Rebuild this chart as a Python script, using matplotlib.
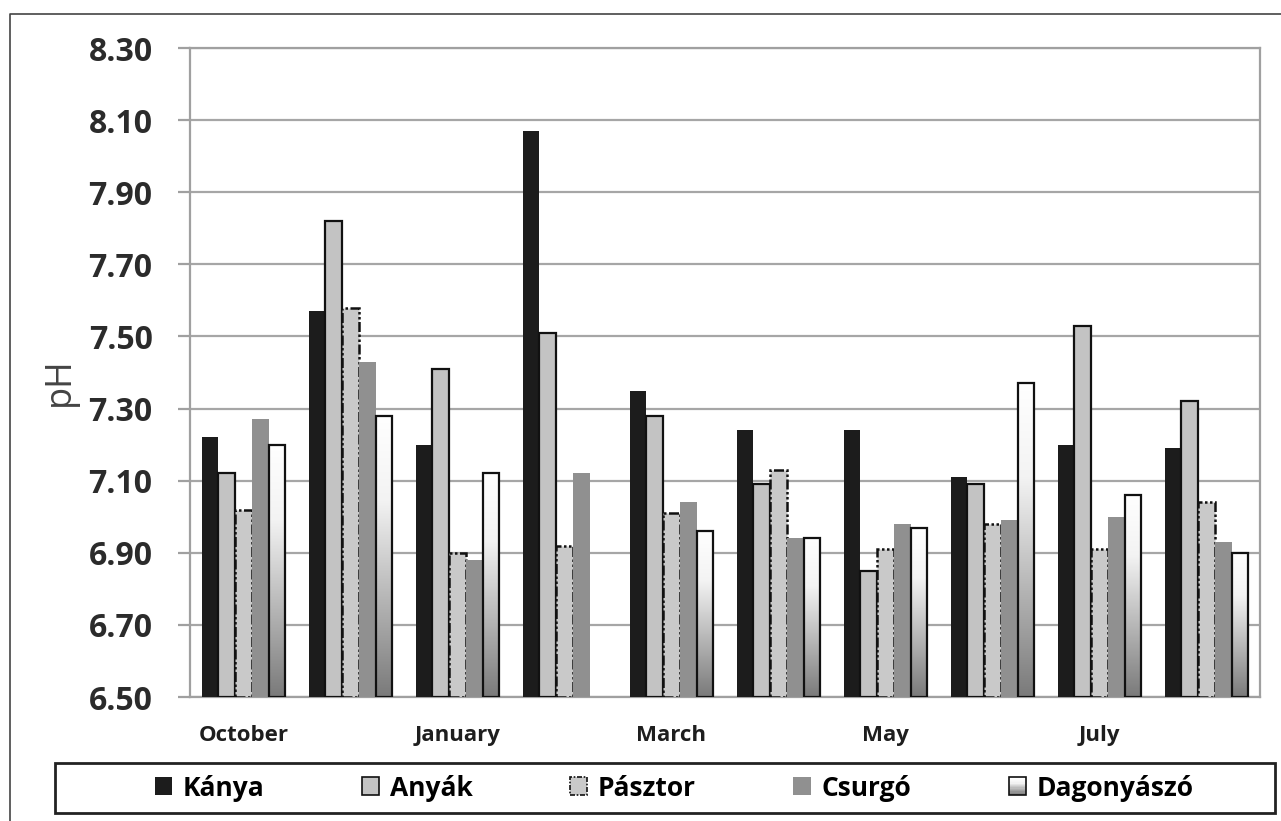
import numpy as np
import matplotlib.pyplot as plt
from matplotlib.patches import Rectangle, Patch
from matplotlib.lines import Line2D
from matplotlib.legend_handler import HandlerBase
from matplotlib.colors import LinearSegmentedColormap

plt.rcParams['font.family'] = ['Open Sans', 'DejaVu Sans']

# pH values per sampling (10 samplings, months labelled every other one)
months = ['October', '', 'January', '', 'March', '', 'May', '', 'July', '']
kanya = [7.22, 7.57, 7.20, 8.07, 7.35, 7.24, 7.24, 7.11, 7.20, 7.19]
anyak = [7.12, 7.82, 7.41, 7.51, 7.28, 7.09, 6.85, 7.09, 7.53, 7.32]
pasztor = [7.02, 7.58, 6.90, 6.92, 7.01, 7.13, 6.91, 6.98, 6.91, 7.04]
csurgo = [7.27, 7.43, 6.88, 7.12, 7.04, 6.94, 6.98, 6.99, 7.00, 6.93]
dagonyaszo = [7.20, 7.28, 7.12, np.nan, 6.96, 6.94, 6.97, 7.37, 7.06, 6.90]
names = ['Kánya', 'Anyák', 'Pásztor', 'Csurgó', 'Dagonyászó']

base = 6.5
W, H = 1281, 821

grad_cmap = LinearSegmentedColormap.from_list(
    'dag', [(0, '#ffffff'), (0.3, '#f3f3f3'), (1, '#7a7a7a')])

fig = plt.figure(figsize=(W / 100, H / 100), dpi=100)
ax = fig.add_axes([190 / W, 1 - 697 / H, (1260 - 190) / W, (697 - 48) / H])

x = np.arange(len(months))
bw = 0.157
offs = (np.arange(5) - 2) * bw

def heights(v):
    return np.array(v, dtype=float) - base

ax.bar(x + offs[0], heights(kanya), bw, bottom=base, color='#1c1c1c', zorder=3)
ax.bar(x + offs[1], heights(anyak), bw, bottom=base, color='#c3c3c3',
       edgecolor='#111111', linewidth=1.6, zorder=3)
ax.bar(x + offs[2], heights(pasztor), bw, bottom=base, color='#c9c9c9',
       edgecolor='#111111', linewidth=1.8, linestyle=(0, (4, 1, 1, 1, 1, 1)),
       zorder=3)
ax.bar(x + offs[3], heights(csurgo), bw, bottom=base, color='#909090', zorder=3)
dag = ax.bar(x + offs[4], heights(dagonyaszo), bw, bottom=base, facecolor='none',
             edgecolor='#111111', linewidth=1.6, zorder=3.1)

# vertical white-to-gray fill for each Dagonyászó bar
grad = np.linspace(0, 1, 256).reshape(-1, 1)
for p, v in zip(dag.patches, dagonyaszo):
    if np.isnan(v):
        continue
    x0, y0 = p.get_x(), p.get_y()
    im = ax.imshow(grad, extent=[x0, x0 + p.get_width(), y0, y0 + p.get_height()],
                   aspect='auto', cmap=grad_cmap, origin='upper', zorder=3)
    im.set_clip_path(p)

ax.set_xlim(-0.5, len(months) - 0.5)
ax.set_ylim(6.5, 8.3)
ax.set_yticks(np.arange(6.5, 8.31, 0.2))
ax.set_yticklabels([f'{t:.2f}' for t in np.arange(6.5, 8.31, 0.2)],
                   fontsize=23, fontweight='bold', color='#2b2b2b')
ax.set_xticks(x)
ax.set_xticklabels(months, fontsize=16, fontweight='bold', color='#1e1e1e')
ax.tick_params(axis='x', length=0, pad=20)
ax.tick_params(axis='y', length=9, width=1.6, color='#a0a0a0', pad=18)
ax.grid(axis='y', color='#a6a6a6', linewidth=1.6, zorder=0)
ax.set_axisbelow(True)
for s in ax.spines.values():
    s.set_color('#a0a0a0')
    s.set_linewidth(1.6)

fig.text(60 / W, 1 - 382 / H, 'pH', rotation=90, ha='center', va='center',
         fontsize=26, color='#444444')


class GradientHandler(HandlerBase):
    def create_artists(self, legend, orig_handle, xdescent, ydescent,
                       width, height, fontsize, trans):
        n = 14
        arts = []
        for i in range(n):
            r = Rectangle((-xdescent, -ydescent + height * (n - 1 - i) / n),
                          width, height / n, facecolor=grad_cmap(i / (n - 1)),
                          edgecolor='none', transform=trans)
            arts.append(r)
        arts.append(Rectangle((-xdescent, -ydescent), width, height,
                              facecolor='none', edgecolor='#111111', lw=1.2,
                              transform=trans))
        return arts


handles = [
    Patch(facecolor='#1c1c1c'),
    Patch(facecolor='#c3c3c3', edgecolor='#111111', lw=1.2),
    Patch(facecolor='#c9c9c9', edgecolor='#111111', lw=1.2, linestyle=(0, (3, 1, 1, 1))),
    Patch(facecolor='#909090'),
    Patch(facecolor='white'),
]
fig.legend(handles, names, loc='center', bbox_to_anchor=(674 / W, 1 - 788 / H),
           ncol=5, frameon=False, prop={'size': 19, 'weight': 'bold'},
           handlelength=0.65, handleheight=0.65, handletextpad=0.4,
           columnspacing=3.7, handler_map={handles[4]: GradientHandler()})

# legend box and outer frame
fig.add_artist(Rectangle((55 / W, 1 - 813 / H), (1275 - 55) / W, 50 / H,
                         transform=fig.transFigure, fill=False,
                         edgecolor='#222222', lw=2))
fig.add_artist(Line2D([10 / W, 10 / W, 1], [0, 1 - 14 / H, 1 - 14 / H],
                      transform=fig.transFigure, color='#444444', lw=1.2))

fig.savefig('out.png', dpi=100)
